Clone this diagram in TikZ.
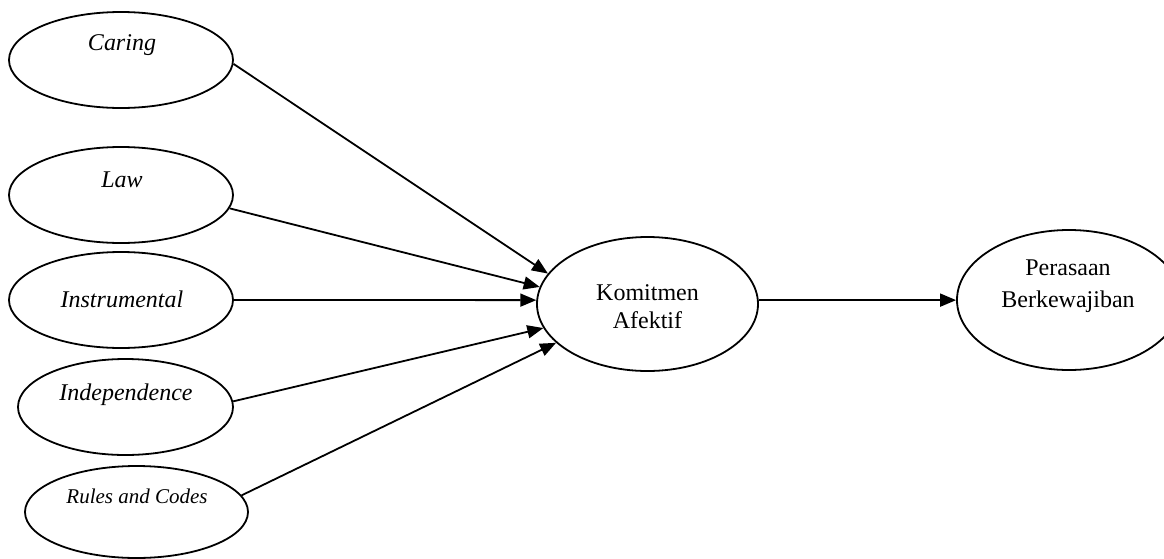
\documentclass[tikz,border=0pt]{standalone}
\usepackage{fontspec}
\setmainfont{Liberation Serif}
\usetikzlibrary{shapes.geometric,arrows.meta}
\begin{document}
\begin{tikzpicture}[x=0.5pt,y=-0.5pt,
  ell/.style={draw,ellipse,line width=0.9pt,inner sep=0pt},
  lbl/.style={inner sep=0pt,anchor=base,font=\fontsize{12}{14}\selectfont\itshape},
  txt/.style={inner sep=0pt,anchor=base,font=\fontsize{12}{14}\selectfont},
  conn/.style={line width=0.9pt,-{Triangle[length=8pt,width=6.5pt]}}]
\useasboundingbox (0,0) rectangle (1164,558);
% left ellipses
\node[ell,minimum width=112pt,minimum height=48pt] (caring) at (121,60) {};
\node[lbl] (caringt) at (122,50.5) {Caring};
\node[ell,minimum width=112pt,minimum height=48pt] (law) at (121,195) {};
\node[lbl] (lawt) at (122,187) {Law};
\node[ell,minimum width=112pt,minimum height=48pt] (instr) at (121,300) {};
\node[lbl] (instrt) at (122,307) {Instrumental};
\node[ell,minimum width=107.5pt,minimum height=48pt] (indep) at (125.5,407) {};
\node[lbl] (indept) at (126,400) {Independence};
\node[ell,minimum width=111.5pt,minimum height=46pt] (rules) at (136.5,512) {};
\node[lbl,font=\fontsize{10.5}{12}\selectfont\itshape] (rulest) at (137,503) {Rules and Codes};
% middle
\node[ell,minimum width=110.5pt,minimum height=67pt] (kom) at (647.5,304) {};
\node[txt] (kom1) at (647.5,300) {Komitmen};
\node[txt] (kom2) at (647.5,328) {Afektif};
% right
\node[ell,minimum width=112pt,minimum height=70pt] (per) at (1069,300) {};
\node[txt] (per1) at (1068,275) {Perasaan};
\node[txt] (per2) at (1068,307) {Berkewajiban};
% connectors
\draw[conn] (caring.-2) -- (kom.163);
\draw[conn] (law.-7) -- (kom.171);
\draw[conn] (instr.east) -- (kom.178);
\draw[conn] (indep.3) -- (kom.193);
\draw[conn] (rules.9.4) -- (kom.203.6);
\draw[conn] (kom.2.6) -- (kom.2.6 -| per.west);
\end{tikzpicture}
\end{document}
